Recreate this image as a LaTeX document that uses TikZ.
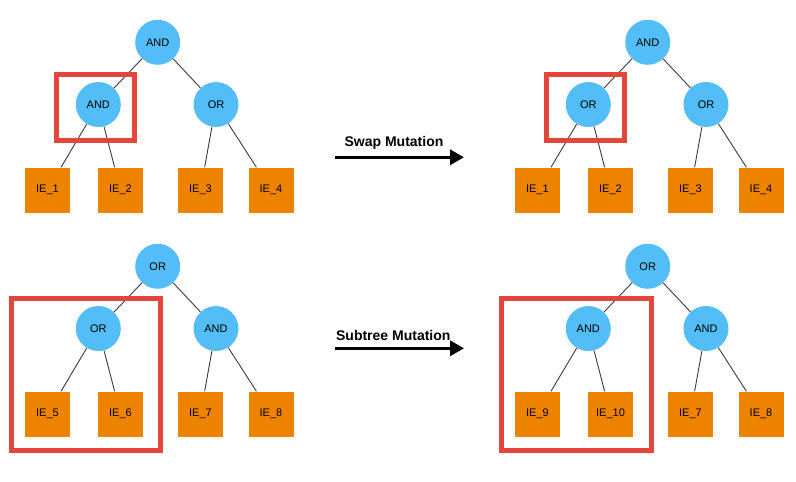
\documentclass[tikz,border=0pt]{standalone}
\usepackage{fontspec}
\setmainfont{Liberation Sans}
\usetikzlibrary{arrows.meta}
\definecolor{gateblue}{HTML}{52BDF6}
\definecolor{leaforange}{HTML}{EE8300}
\definecolor{markred}{HTML}{E4463B}
\definecolor{edgegray}{HTML}{3A3A3A}

\begin{document}
\begin{tikzpicture}[
  x=1pt, y=-1pt,
  font=\fontsize{11}{13}\selectfont,
  gate/.style={circle, fill=gateblue, minimum size=45pt, inner sep=0pt},
  leaf/.style={rectangle, fill=leaforange, minimum size=45pt, inner sep=0pt},
  edge/.style={draw=edgegray, line width=0.9pt},
  selbox/.style={draw=markred, line width=5pt},
  mutation/.style={line width=3.3pt, -{Triangle[length=14pt,width=15pt]}},
  mutlabel/.style={font=\fontsize{14}{16}\selectfont\bfseries},
]
\useasboundingbox (0,0) rectangle (796,482);

% four trees: name / shift / labels
\foreach \t/\dx/\dy/\r/\l/\g/\ia/\ib/\ic/\id in {
  a/0/0/AND/AND/OR/IE\_1/IE\_2/IE\_3/IE\_4,
  b/490/0/AND/OR/OR/IE\_1/IE\_2/IE\_3/IE\_4,
  c/0/224/OR/OR/AND/IE\_5/IE\_6/IE\_7/IE\_8,
  d/490/224/OR/AND/AND/IE\_9/IE\_10/IE\_7/IE\_8} {
  \begin{scope}[shift={(\dx,\dy)}]
    \node[gate] (\t-root)  at (157.7,42.3) {\r};
    \node[gate] (\t-left)  at (98.3,104.5) {\l};
    \node[gate] (\t-right) at (216,104.5) {\g};
    \node[leaf] (\t-1) at (47.5,190) {\ia};
    \node[leaf] (\t-2) at (120.5,190) {\ib};
    \node[leaf] (\t-3) at (200.5,190) {\ic};
    \node[leaf] (\t-4) at (271,190) {\id};
  \end{scope}
  \foreach \p/\c in {root/left, root/right, left/1, left/2, right/3, right/4}
    \draw[edge] (\t-\p) -- (\t-\c);
}

% selected parts
\draw[selbox] (56.8,74.2) rectangle (134.8,140.8);
\draw[selbox] (546.8,74.2) rectangle (624.8,140.8);
\draw[selbox] (11.8,298.2) rectangle (160.8,450.8);
\draw[selbox] (501.8,298.2) rectangle (651.8,450.8);

% mutation arrows
\coordinate (swap-start) at (335,157.3);
\coordinate (swap-end) at (464,157.3);
\draw[mutation] (swap-start) -- (swap-end);
\node[mutlabel] (swap-label) at (394,143.3) {Swap Mutation};

\coordinate (sub-start) at (335,348.3);
\coordinate (sub-end) at (464,348.3);
\draw[mutation] (sub-start) -- (sub-end);
\node[mutlabel] (sub-label) at (393.3,335) {Subtree Mutation};

\end{tikzpicture}
\end{document}
